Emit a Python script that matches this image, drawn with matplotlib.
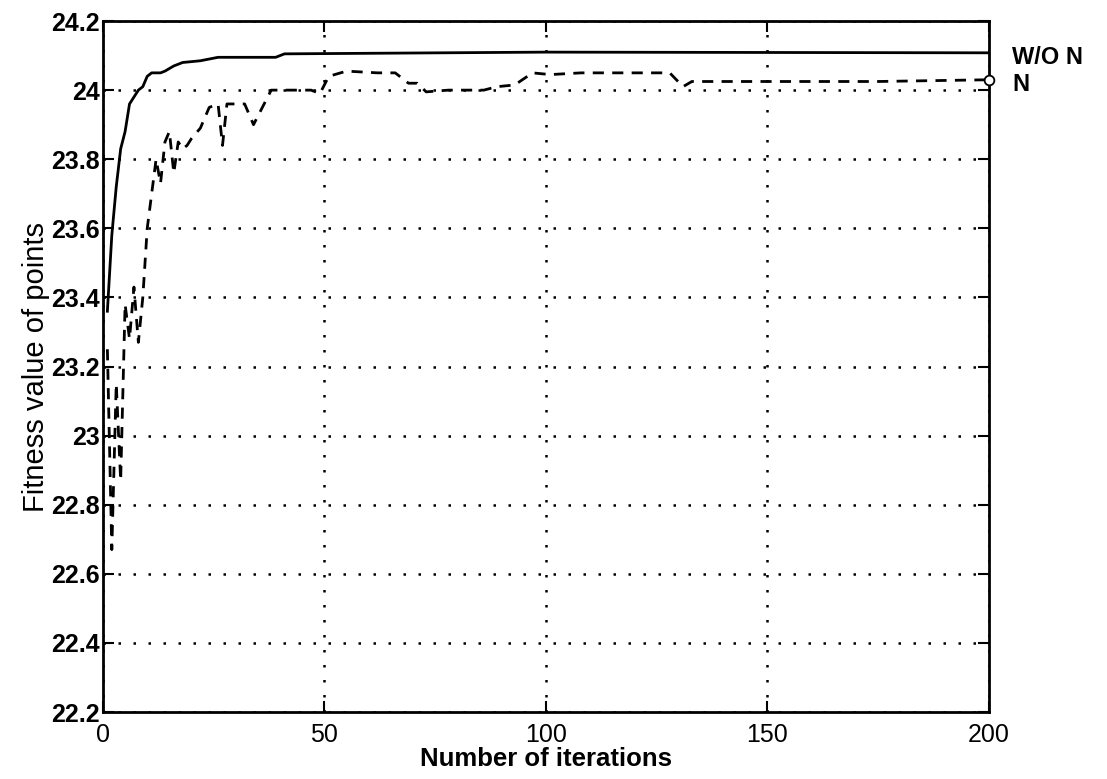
#!/usr/bin/env python3
import matplotlib
matplotlib.use('Agg')
import matplotlib.pyplot as plt

# fitness without N (solid)
iter_wo = [1, 2, 3, 4, 5, 6, 7, 8, 9, 10, 11, 13, 14, 16, 18, 22, 26, 39, 41, 100, 200]
fit_wo = [23.36, 23.58, 23.72, 23.83, 23.88, 23.96, 23.98, 24.0, 24.01, 24.04, 24.05,
          24.05, 24.055, 24.07, 24.08, 24.085, 24.095, 24.095, 24.105, 24.11, 24.108]

# fitness with N (dashed)
iter_n = [1, 2, 3, 4, 5, 6, 7, 8, 9, 10, 11, 12, 13, 14, 15, 16, 17, 18, 19, 20,
          22, 24, 26, 27, 28, 30, 32, 34, 36, 38, 42, 47, 49, 51, 55, 62, 66, 69,
          71, 73, 78, 86, 89, 93, 97, 101, 108, 123, 128, 131, 133, 150, 175, 200]
fit_n = [23.25, 22.67, 23.15, 22.87, 23.38, 23.28, 23.43, 23.27, 23.40, 23.60,
         23.70, 23.80, 23.73, 23.85, 23.88, 23.76, 23.85, 23.83, 23.84, 23.86,
         23.89, 23.95, 23.96, 23.84, 23.96, 23.96, 23.96, 23.90, 23.95, 24.0,
         24.0, 24.0, 23.99, 24.04, 24.055, 24.05, 24.05, 24.02, 24.02, 23.995,
         24.0, 24.0, 24.01, 24.015, 24.05, 24.045, 24.05, 24.05, 24.05, 24.01,
         24.025, 24.025, 24.025, 24.03]

xticks = [0, 50, 100, 150, 200]
yticks = [22.2, 22.4, 22.6, 22.8, 23.0, 23.2, 23.4, 23.6, 23.8, 24.0, 24.2]
ytick_labels = ['22.2', '22.4', '22.6', '22.8', '23', '23.2', '23.4', '23.6', '23.8', '24', '24.2']

font = 'Liberation Sans'

fig = plt.figure(figsize=(11.07, 7.79), dpi=100)
ax = fig.add_axes([0.093, 0.086, 0.800, 0.887])

ax.plot(iter_wo, fit_wo, color='black', lw=2, solid_joinstyle='round')
ax.plot(iter_n, fit_n, color='black', lw=2, ls=(0, (4, 3)))
ax.plot([iter_n[-1]], [fit_n[-1]], 'o', mfc='white', mec='black', ms=7, mew=1.3,
        clip_on=False, zorder=5)

ax.set_xlim(0, 200)
ax.set_ylim(22.2, 24.2)
ax.set_xticks(xticks)
ax.set_yticks(yticks)
ax.set_yticklabels(ytick_labels, fontsize=18, fontweight='bold', family=font)
ax.set_xticklabels([str(t) for t in xticks], fontsize=18, family=font)
ax.tick_params(direction='in', length=8, width=1.5, top=True, right=True)
ax.tick_params(axis='y', pad=2)
ax.tick_params(axis='x', pad=8)
ax.grid(True, color='black', ls=(0, (1, 5)), lw=1.8)
for s in ax.spines.values():
    s.set_linewidth(2)

ax.set_xlabel('Number of iterations', fontsize=18.5, fontweight='bold', family=font, labelpad=0)
ax.set_ylabel('Fitness value of points', fontsize=21, family=font, labelpad=1)

ax.text(1.027, 24.095, 'W/O N', transform=ax.get_yaxis_transform(), fontsize=17,
        fontweight='bold', family=font, va='center', ha='left')
ax.text(1.027, 24.017, 'N', transform=ax.get_yaxis_transform(), fontsize=17,
        fontweight='bold', family=font, va='center', ha='left')

fig.savefig('out.png', dpi=100)
